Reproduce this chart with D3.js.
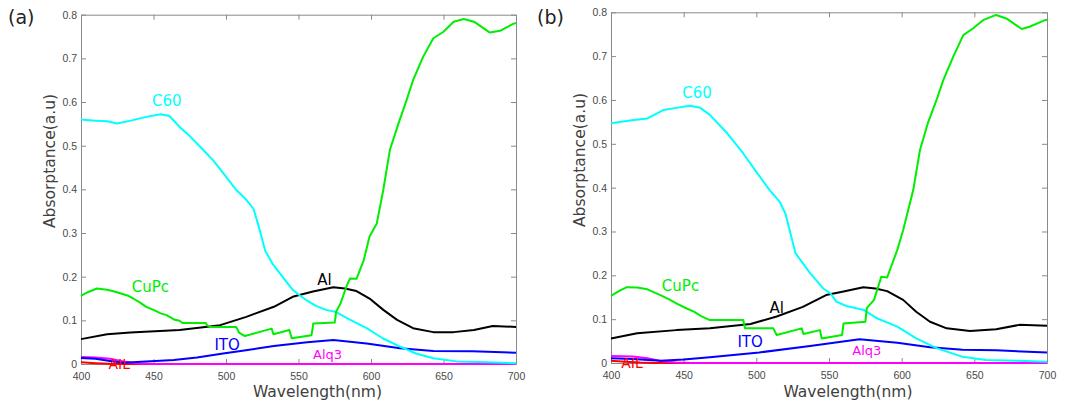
<!DOCTYPE html>
<html>
<head>
<meta charset="utf-8">
<script src="https://cdn.jsdelivr.net/npm/d3@7"></script>
<style>
  body { margin: 0; background: #fff; }
  svg { display: block; font-family: "DejaVu Sans", sans-serif; }
  .tick text { fill: #4a4a4a; font-size: 10.5px; }
  .domain, .tick line { stroke: #8a8a8a; }
</style>
</head>
<body>
<div id="chart"></div>
<script>
// ---- data ----
const xTicks = [400, 450, 500, 550, 600, 650, 700];
const yTicks = [0, 0.1, 0.2, 0.3, 0.4, 0.5, 0.6, 0.7, 0.8];

// panel (a)
const c60WlA = [400, 410, 418, 425, 435, 445, 455, 461, 468, 475, 482, 491, 500, 507, 514, 519, 523, 527, 532, 537, 546, 551, 556, 562, 569, 576, 585, 597, 608, 620, 631, 643, 659, 680, 700];
const c60A   = [0.560, 0.557, 0.556, 0.551, 0.558, 0.566, 0.572, 0.568, 0.543, 0.522, 0.498, 0.467, 0.429, 0.399, 0.376, 0.355, 0.310, 0.260, 0.230, 0.208, 0.170, 0.157, 0.145, 0.133, 0.124, 0.119, 0.102, 0.082, 0.059, 0.040, 0.024, 0.013, 0.006, 0.004, 0.002];
const cupcWlA = [400, 405, 411, 418, 423, 427, 432, 436, 441, 445, 450, 455, 459, 464, 468, 470, 486, 487, 490, 507, 509, 513, 531.5, 532.7, 543.7, 545.3, 559, 560.2, 575, 576, 579, 583, 585.5, 590, 595, 599, 604, 608.5, 613, 619, 624.6, 629, 636, 643, 650, 657, 664, 671, 682, 689, 698, 700];
const cupcA   = [0.156, 0.165, 0.173, 0.170, 0.166, 0.162, 0.157, 0.150, 0.140, 0.131, 0.124, 0.116, 0.112, 0.102, 0.099, 0.094, 0.094, 0.088, 0.085, 0.085, 0.072, 0.064, 0.081, 0.068, 0.078, 0.059, 0.066, 0.093, 0.095, 0.120, 0.139, 0.177, 0.196, 0.195, 0.238, 0.292, 0.322, 0.399, 0.490, 0.551, 0.605, 0.650, 0.704, 0.746, 0.761, 0.784, 0.790, 0.784, 0.759, 0.763, 0.779, 0.781];
const alWlA = [400, 418, 434, 468, 496, 514, 533, 546, 560, 574, 582, 590, 599, 608.5, 618, 629, 643, 657, 671, 684, 700];
const alA   = [0.057, 0.068, 0.072, 0.078, 0.089, 0.108, 0.131, 0.154, 0.166, 0.176, 0.173, 0.167, 0.150, 0.124, 0.101, 0.082, 0.073, 0.073, 0.078, 0.087, 0.085];
const itoWlA = [400, 410, 420, 429, 445, 464, 480, 498, 515, 533, 556, 574, 597, 620, 643, 670, 700];
const itoA   = [0.014, 0.012, 0.007, 0.003, 0.006, 0.009, 0.015, 0.024, 0.032, 0.041, 0.050, 0.055, 0.047, 0.036, 0.030, 0.029, 0.026];
const alq3WlA = [400, 410, 420, 430, 440, 450, 700];
const alq3A   = [0.016, 0.015, 0.012, 0.005, 0.001, 0, 0];
const ailWlA = [400, 410, 420, 430, 700];
const ailA   = [0.004, 0.002, 0.0005, 0, 0];

// panel (b)
const c60WlB = [400, 413, 425, 436, 445, 454, 461, 468, 480, 491, 500, 509, 516, 520, 527, 537, 546, 551, 555, 562, 574, 583, 597, 610, 624, 642, 658, 680, 700];
const c60B   = [0.547, 0.553, 0.558, 0.577, 0.582, 0.587, 0.583, 0.566, 0.524, 0.478, 0.436, 0.395, 0.368, 0.341, 0.250, 0.205, 0.170, 0.159, 0.140, 0.130, 0.121, 0.102, 0.083, 0.056, 0.034, 0.014, 0.007, 0.005, 0.003];
const cupcWlB = [400, 406, 411, 418, 425, 434, 440, 445, 451, 457, 462, 468, 491, 492.2, 511.7, 514, 531.2, 532.4, 543.8, 545, 559, 560, 575, 576, 581, 586, 590, 597, 601, 608, 612.6, 618, 624, 628.7, 635.5, 642.4, 649, 656, 665, 672, 682.6, 688, 698.6, 700];
const cupcB   = [0.153, 0.165, 0.173, 0.172, 0.168, 0.155, 0.145, 0.136, 0.126, 0.117, 0.107, 0.098, 0.098, 0.079, 0.079, 0.064, 0.079, 0.066, 0.075, 0.056, 0.064, 0.090, 0.094, 0.125, 0.144, 0.197, 0.195, 0.258, 0.303, 0.395, 0.486, 0.547, 0.600, 0.646, 0.699, 0.748, 0.763, 0.782, 0.794, 0.786, 0.762, 0.767, 0.782, 0.783];
const alWlB = [400, 418, 445, 468, 496, 514, 532, 548, 560, 573.6, 582, 590, 601, 610, 619.5, 631, 647, 665, 681, 700];
const alB   = [0.056, 0.068, 0.075, 0.079, 0.089, 0.106, 0.128, 0.155, 0.163, 0.173, 0.170, 0.164, 0.144, 0.117, 0.094, 0.079, 0.073, 0.077, 0.087, 0.085];
const itoWlB = [400, 415, 434, 450, 468, 502, 537, 571, 597, 619.5, 642, 665, 700];
const itoB   = [0.011, 0.009, 0.005, 0.008, 0.013, 0.024, 0.039, 0.054, 0.046, 0.036, 0.030, 0.029, 0.024];
const alq3WlB = [400, 415, 425, 435, 445, 455, 700];
const alq3B   = [0.016, 0.015, 0.011, 0.004, 0.001, 0, 0];
const ailWlB = [400, 410, 420, 430, 700];
const ailB   = [0.005, 0.003, 0.001, 0, 0];

const zip = (xs, ys) => xs.map((x, i) => [x, ys[i]]);

const svg = d3.select("#chart").append("svg")
  .attr("width", 1065)
  .attr("height", 406);

function drawPanel(p) {
  const width = p.right - p.left;
  const height = p.bottom - p.top;

  const g = svg.append("g")
    .attr("transform", `translate(${p.left},${p.top})`);

  const x = d3.scaleLinear().domain([400, 700]).range([0, width]);
  const y = d3.scaleLinear().domain([0, 0.8]).range([height, 0]);

  // box with inward ticks on all four sides
  g.append("g")
    .attr("transform", `translate(0,${height})`)
    .call(d3.axisBottom(x).tickValues(xTicks).tickSizeInner(-5).tickSizeOuter(0).tickPadding(9));
  g.append("g")
    .call(d3.axisTop(x).tickValues(xTicks).tickSizeInner(-5).tickSizeOuter(0).tickFormat(""));
  g.append("g")
    .call(d3.axisLeft(y).tickValues(yTicks).tickSizeInner(-5).tickSizeOuter(0).tickPadding(4)
      .tickFormat(d => d === 0 ? "0" : d3.format(".1f")(d)));
  g.append("g")
    .attr("transform", `translate(${width},0)`)
    .call(d3.axisRight(y).tickValues(yTicks).tickSizeInner(-5).tickSizeOuter(0).tickFormat(""));

  const line = d3.line().x(d => x(d[0])).y(d => y(d[1]));

  // red first, magenta over it
  p.series.forEach(s => {
    g.append("path")
      .datum(s.data)
      .attr("fill", "none")
      .attr("stroke", s.color)
      .attr("stroke-width", 2)
      .attr("stroke-linejoin", "round")
      .attr("d", line);
  });

  p.labels.forEach(l => {
    g.append("text")
      .attr("x", x(l.wl))
      .attr("y", y(l.v))
      .attr("fill", l.color)
      .style("font-size", l.size + "px")
      .text(l.text);
  });

  // axis titles
  svg.append("text")
    .attr("x", p.left + width / 2 + 19)
    .attr("y", 397)
    .attr("text-anchor", "middle")
    .attr("fill", "#404040")
    .style("font-size", "15.5px")
    .text("Wavelength(nm)");

  svg.append("text")
    .attr("transform", `translate(${p.left - 26},${p.yLabelMid}) rotate(-90)`)
    .attr("text-anchor", "middle")
    .attr("fill", "#404040")
    .style("font-size", "15.5px")
    .text("Absorptance(a.u)");

  svg.append("text")
    .attr("x", p.tagX)
    .attr("y", 24)
    .attr("fill", "#222")
    .style("font-size", "19px")
    .text(p.tag);
}

drawPanel({
  left: 81, right: 516, top: 14.7, bottom: 364, tag: "(a)", tagX: 8, yLabelMid: 161,
  series: [
    {color: "#ff0000", data: zip(ailWlA, ailA)},
    {color: "#ff00ff", data: zip(alq3WlA, alq3A)},
    {color: "#0000ff", data: zip(itoWlA, itoA)},
    {color: "#000000", data: zip(alWlA, alA)},
    {color: "#00ffff", data: zip(c60WlA, c60A)},
    {color: "#00ee00", data: zip(cupcWlA, cupcA)}
  ],
  labels: [
    {text: "C60", wl: 449, v: 0.59, color: "#00ffff", size: 15},
    {text: "CuPc", wl: 435, v: 0.165, color: "#00ee00", size: 15},
    {text: "Al", wl: 563, v: 0.18, color: "#000000", size: 15},
    {text: "ITO", wl: 492, v: 0.032, color: "#0000ff", size: 15},
    {text: "Alq3", wl: 560, v: 0.012, color: "#ff00ff", size: 13},
    {text: "AIL", wl: 419, v: -0.012, color: "#ff0000", size: 14}
  ]
});

drawPanel({
  left: 611, right: 1047, top: 12.3, bottom: 363, tag: "(b)", tagX: 537, yLabelMid: 160,
  series: [
    {color: "#ff0000", data: zip(ailWlB, ailB)},
    {color: "#ff00ff", data: zip(alq3WlB, alq3B)},
    {color: "#0000ff", data: zip(itoWlB, itoB)},
    {color: "#000000", data: zip(alWlB, alB)},
    {color: "#00ffff", data: zip(c60WlB, c60B)},
    {color: "#00ee00", data: zip(cupcWlB, cupcB)}
  ],
  labels: [
    {text: "C60", wl: 449, v: 0.605, color: "#00ffff", size: 15},
    {text: "CuPc", wl: 435, v: 0.165, color: "#00ee00", size: 15},
    {text: "Al", wl: 509, v: 0.115, color: "#000000", size: 15},
    {text: "ITO", wl: 487, v: 0.037, color: "#0000ff", size: 15},
    {text: "Alq3", wl: 566, v: 0.018, color: "#ff00ff", size: 13},
    {text: "AIL", wl: 407, v: -0.012, color: "#ff0000", size: 14}
  ]
});
</script>
</body>
</html>
